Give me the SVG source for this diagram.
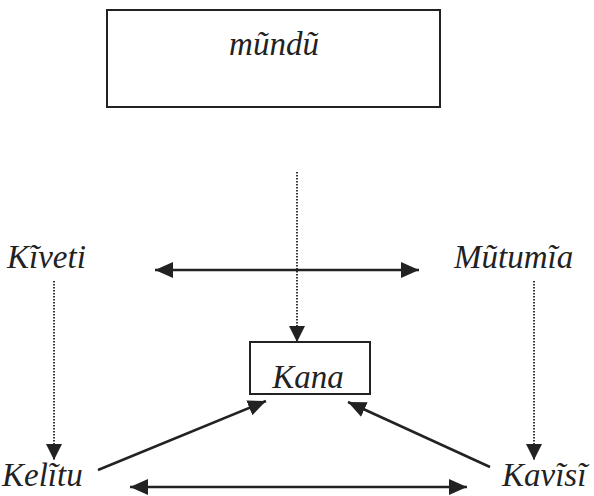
<svg xmlns="http://www.w3.org/2000/svg" width="594" height="496" viewBox="0 0 594 496">
<defs>
<style>
.lbl{font-family:"Liberation Serif","Times New Roman",serif;font-style:italic;font-size:33px;fill:#222}
.box{fill:#fff;stroke:#222;stroke-width:2}
.solid{stroke:#222;stroke-width:2.5;fill:none}
.dot{stroke:#222;stroke-width:1.8;stroke-dasharray:1.6 1.4;fill:none}
</style>
<marker id="ah" viewBox="0 0 18 16" refX="18" refY="8" markerWidth="18" markerHeight="16" markerUnits="userSpaceOnUse" orient="auto-start-reverse">
<path d="M0,0 L18,8 L0,16 Z" fill="#222"/>
</marker>
<marker id="ahs" viewBox="0 0 16 16" refX="16" refY="8" markerWidth="16" markerHeight="16" markerUnits="userSpaceOnUse" orient="auto">
<path d="M0,0 L16,8 L0,16 Z" fill="#222"/>
</marker>
</defs>
<rect width="594" height="496" fill="#fff"/>
<g id="connectors">
<line class="dot" x1="297" y1="172" x2="297" y2="342" marker-end="url(#ahs)"/>
<line class="dot" x1="54" y1="281" x2="54" y2="460" marker-end="url(#ahs)"/>
<line class="dot" x1="534" y1="281" x2="534" y2="460" marker-end="url(#ahs)"/>
<line class="solid" x1="155" y1="270" x2="419" y2="270" marker-start="url(#ah)" marker-end="url(#ah)"/>
<line class="solid" x1="130" y1="487" x2="467" y2="487" marker-start="url(#ah)" marker-end="url(#ah)"/>
<line class="solid" x1="98" y1="470" x2="266" y2="401" marker-end="url(#ah)"/>
<line class="solid" x1="490" y1="467" x2="348" y2="402" marker-end="url(#ah)"/>
</g>
<g id="mundu">
<rect class="box" x="107" y="10" width="333" height="97"/>
<text class="lbl" x="274" y="55" text-anchor="middle">mũndũ</text>
</g>
<g id="kana">
<rect class="box" x="250" y="342" width="120" height="52"/>
<text class="lbl" x="308" y="388" text-anchor="middle">Kana</text>
</g>
<g id="kiveti"><text class="lbl" x="7" y="268">Kĩveti</text></g>
<g id="mutumia"><text class="lbl" x="454" y="268">Mũtumĩa</text></g>
<g id="kelitu"><text class="lbl" x="2" y="486">Kelĩtu</text></g>
<g id="kavisi"><text class="lbl" x="502" y="486">Kavĩsĩ</text></g>
</svg>
